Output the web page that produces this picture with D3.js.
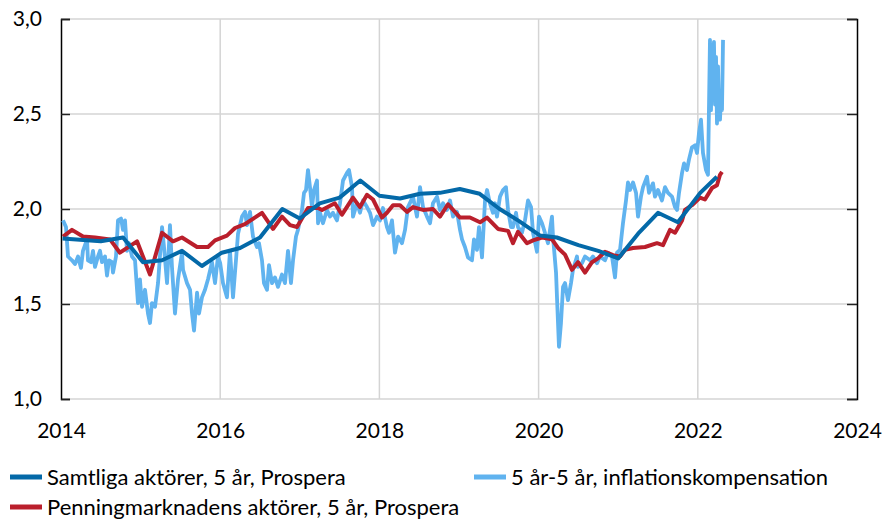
<!DOCTYPE html>
<html>
<head>
<meta charset="utf-8">
<script src="https://cdn.jsdelivr.net/npm/d3@7"></script>
<style>
  html, body { margin: 0; padding: 0; background: #fff; }
  svg { display: block; }
  text { font-family: Lato, "Open Sans", sans-serif; fill: #000; }
</style>
</head>
<body>
<svg id="chart" width="882" height="522"></svg>
<script>
// ---------- DATA ----------
const yTicks = [1.0, 1.5, 2.0, 2.5, 3.0];
const xTicks = [2014, 2016, 2018, 2020, 2022, 2024];

const seriesNames = [
  "Samtliga aktörer, 5 år, Prospera",
  "5 år-5 år, inflationskompensation",
  "Penningmarknadens aktörer, 5 år, Prospera"
];

// Samtliga aktörer, 5 år, Prospera
const allYears = [2014.02, 2014.5, 2014.78, 2015.03, 2015.27, 2015.52, 2015.77, 2016.02, 2016.25, 2016.5, 2016.78, 2017.0, 2017.25, 2017.5, 2017.76, 2018.0, 2018.26, 2018.51, 2018.76, 2019.01, 2019.26, 2019.51, 2019.76, 2020.02, 2020.23, 2020.5, 2020.75, 2021.0, 2021.25, 2021.5, 2021.75, 2022.03, 2022.24];
const allValues = [1.845, 1.83, 1.85, 1.72, 1.73, 1.78, 1.70, 1.77, 1.795, 1.85, 2.0, 1.95, 2.03, 2.06, 2.15, 2.07, 2.055, 2.08, 2.085, 2.105, 2.08, 2.0, 1.935, 1.86, 1.85, 1.81, 1.78, 1.74, 1.87, 1.98, 1.93, 2.085, 2.17];

// Penningmarknadens aktörer, 5 år, Prospera
const mmYears = [2014.025, 2014.138, 2014.276, 2014.427, 2014.616, 2014.74, 2014.955, 2015.118, 2015.269, 2015.407, 2015.52, 2015.709, 2015.847, 2015.935, 2016.085, 2016.186, 2016.31, 2016.525, 2016.663, 2016.776, 2016.877, 2016.965, 2017.103, 2017.229, 2017.279, 2017.44, 2017.53, 2017.668, 2017.756, 2017.844, 2017.92, 2018.033, 2018.095, 2018.171, 2018.259, 2018.347, 2018.422, 2018.548, 2018.673, 2018.761, 2018.862, 2019.013, 2019.138, 2019.264, 2019.352, 2019.49, 2019.616, 2019.678, 2019.741, 2019.854, 2019.93, 2020.043, 2020.168, 2020.244, 2020.332, 2020.42, 2020.495, 2020.583, 2020.671, 2020.746, 2020.834, 2020.935, 2021.023, 2021.085, 2021.186, 2021.337, 2021.487, 2021.563, 2021.651, 2021.714, 2021.802, 2021.839, 2021.927, 2022.028, 2022.09, 2022.178, 2022.241, 2022.279, 2022.304];
const mmValues = [1.855, 1.89, 1.855, 1.85, 1.84, 1.77, 1.83, 1.655, 1.875, 1.83, 1.85, 1.80, 1.80, 1.835, 1.86, 1.90, 1.92, 1.98, 1.895, 1.96, 1.915, 1.905, 2.005, 2.005, 1.995, 2.03, 1.97, 2.06, 2.01, 2.075, 2.05, 1.955, 1.98, 2.02, 2.02, 1.985, 2.01, 1.995, 2.0, 1.96, 2.025, 1.955, 1.955, 1.93, 1.955, 1.895, 1.885, 1.82, 1.88, 1.82, 1.835, 1.85, 1.84, 1.795, 1.76, 1.68, 1.72, 1.665, 1.72, 1.74, 1.775, 1.757, 1.75, 1.785, 1.795, 1.80, 1.82, 1.81, 1.89, 1.875, 1.94, 1.995, 2.02, 2.06, 2.05, 2.11, 2.125, 2.18, 2.195];

// 5 år-5 år, inflationskompensation
const bkYears = [2014.025, 2014.063, 2014.088, 2014.138, 2014.176, 2014.214, 2014.251, 2014.276, 2014.327, 2014.339, 2014.377, 2014.402, 2014.427, 2014.465, 2014.49, 2014.515, 2014.553, 2014.578, 2014.603, 2014.641, 2014.653, 2014.691, 2014.716, 2014.754, 2014.779, 2014.804, 2014.829, 2014.854, 2014.892, 2014.93, 2014.967, 2014.992, 2015.018, 2015.055, 2015.093, 2015.118, 2015.143, 2015.181, 2015.219, 2015.269, 2015.294, 2015.332, 2015.369, 2015.394, 2015.432, 2015.47, 2015.52, 2015.533, 2015.583, 2015.621, 2015.646, 2015.671, 2015.709, 2015.734, 2015.771, 2015.809, 2015.847, 2015.897, 2015.935, 2015.972,
  2016.0, 2016.035, 2016.085, 2016.123, 2016.161, 2016.198, 2016.224, 2016.274, 2016.312, 2016.337, 2016.374, 2016.412, 2016.462, 2016.487, 2016.525, 2016.55, 2016.588, 2016.613, 2016.651, 2016.688, 2016.726, 2016.776, 2016.814, 2016.852, 2016.889, 2016.915, 2016.952, 2016.977, 2017.028, 2017.053, 2017.078, 2017.103, 2017.128, 2017.153, 2017.178, 2017.216, 2017.229, 2017.254, 2017.291, 2017.342, 2017.379, 2017.417, 2017.467, 2017.505, 2017.543, 2017.593, 2017.618, 2017.656, 2017.668, 2017.719, 2017.756, 2017.794, 2017.844, 2017.882, 2017.92, 2017.97,
  2018.008, 2018.045, 2018.095, 2018.121, 2018.158, 2018.196, 2018.234, 2018.284, 2018.322, 2018.359, 2018.422, 2018.472, 2018.51, 2018.548, 2018.598, 2018.636, 2018.673, 2018.724, 2018.761, 2018.799, 2018.849, 2018.887, 2018.925, 2018.975, 2019.013, 2019.038, 2019.075, 2019.113, 2019.163, 2019.188, 2019.226, 2019.251, 2019.289, 2019.327, 2019.352, 2019.389, 2019.427, 2019.452, 2019.477, 2019.515, 2019.553, 2019.59, 2019.616, 2019.653, 2019.678, 2019.716, 2019.741, 2019.791, 2019.829, 2019.867, 2019.905, 2019.93, 2019.98,
  2020.005, 2020.043, 2020.08, 2020.118, 2020.168, 2020.181, 2020.219, 2020.231, 2020.256, 2020.281, 2020.307, 2020.332, 2020.369, 2020.407, 2020.432, 2020.482, 2020.495, 2020.545, 2020.583, 2020.646, 2020.683, 2020.734, 2020.771, 2020.834, 2020.872, 2020.922, 2020.96, 2020.985, 2021.023, 2021.06, 2021.098, 2021.123, 2021.148, 2021.186, 2021.224, 2021.249, 2021.286, 2021.312, 2021.362, 2021.387, 2021.437, 2021.462, 2021.5, 2021.55, 2021.588, 2021.626, 2021.676, 2021.714, 2021.739, 2021.764, 2021.802, 2021.827, 2021.864, 2021.889, 2021.927, 2021.965, 2021.99,
  2022.015, 2022.04, 2022.065, 2022.103, 2022.128, 2022.153, 2022.166, 2022.178, 2022.191, 2022.203, 2022.216, 2022.229, 2022.241, 2022.254, 2022.266, 2022.279, 2022.292, 2022.304, 2022.317];
const bkValues = [1.94, 1.905, 1.75, 1.73, 1.71, 1.75, 1.69, 1.78, 1.84, 1.73, 1.72, 1.78, 1.695, 1.75, 1.78, 1.72, 1.75, 1.65, 1.73, 1.72, 1.665, 1.75, 1.94, 1.95, 1.89, 1.94, 1.78, 1.82, 1.75, 1.73, 1.505, 1.63, 1.485, 1.575, 1.45, 1.40, 1.505, 1.485, 1.61, 1.905, 1.80, 1.61, 1.915, 1.695, 1.45, 1.63, 1.77, 1.68, 1.61, 1.575, 1.45, 1.36, 1.56, 1.45, 1.535, 1.575, 1.63, 1.72, 1.61, 1.75,
  1.715, 1.61, 1.535, 1.78, 1.535, 1.73, 1.87, 1.96, 1.985, 1.915, 1.985, 1.855, 1.80, 1.82, 1.73, 1.61, 1.575, 1.705, 1.61, 1.64, 1.59, 1.655, 1.61, 1.78, 1.61, 1.73, 1.855, 1.89, 1.995, 2.085, 2.10, 2.205, 2.115, 2.01, 2.10, 2.15, 1.925, 1.98, 1.925, 1.995, 1.96, 1.98, 1.94, 2.03, 2.15, 2.19, 2.205, 2.115, 1.96, 2.03, 1.98, 2.045, 2.01, 1.98, 1.915, 1.96,
  1.94, 2.005, 1.905, 1.875, 1.94, 1.77, 1.855, 1.82, 1.89, 2.01, 2.065, 1.96, 2.115, 2.01, 1.96, 1.925, 2.03, 2.065, 1.995, 2.03, 1.995, 2.045, 1.96, 1.985, 1.89, 1.84, 1.80, 1.745, 1.73, 1.84, 1.785, 1.905, 1.745, 2.045, 2.10, 2.03, 1.98, 2.03, 1.96, 2.065, 2.10, 2.115, 1.995, 1.905, 1.905, 1.98, 1.905, 1.875, 1.94, 2.045, 2.01, 1.875, 1.775,
  1.96, 1.925, 1.875, 1.82, 1.96, 1.855, 1.665, 1.535, 1.275, 1.40, 1.59, 1.61, 1.52, 1.61, 1.68, 1.75, 1.695, 1.715, 1.75, 1.73, 1.75, 1.715, 1.75, 1.73, 1.77, 1.75, 1.64, 1.77, 1.785, 1.925, 2.045, 2.14, 2.10, 2.14, 2.085, 1.96, 2.065, 2.115, 2.17, 2.085, 2.135, 2.065, 2.10, 2.045, 2.115, 2.085, 2.065, 2.01, 1.995, 2.085, 2.19, 2.24, 2.205, 2.26, 2.325, 2.335, 2.295,
  2.40, 2.47, 2.295, 2.205, 2.18, 2.89, 2.52, 2.86, 2.60, 2.88, 2.55, 2.80, 2.45, 2.75, 2.50, 2.47, 2.60, 2.52, 2.89];

// ---------- CHART ----------
const colors = { all: "#0469a8", bk: "#60b3ef", mm: "#ba1f2c" };
const svg = d3.select("#chart");
const x = d3.scaleLinear().domain([2014, 2024]).range([61, 857]);
const y = d3.scaleLinear().domain([1, 3]).range([399, 19]);

// grid
svg.append("g").selectAll("line").data(yTicks).join("line")
  .attr("x1", x(2014)).attr("x2", x(2024))
  .attr("y1", d => y(d)).attr("y2", d => y(d))
  .attr("stroke", "#d4d4d4").attr("stroke-width", 1.5);
svg.append("g").selectAll("line").data(xTicks.filter(d => d > 2014 && d < 2024)).join("line")
  .attr("x1", d => x(d)).attr("x2", d => x(d))
  .attr("y1", y(1)).attr("y2", y(3))
  .attr("stroke", "#d4d4d4").attr("stroke-width", 1.5);

// axes
const fmt = d => d3.format(".1f")(d).replace(".", ",");
const yAxis = svg.append("g").attr("transform", `translate(${x(2014)},0)`)
  .call(d3.axisLeft(y).tickValues(yTicks).tickFormat(fmt).tickSize(-9).tickPadding(19));
yAxis.select(".domain").attr("stroke", "#000").attr("stroke-width", 1.5);
yAxis.selectAll(".tick line").attr("stroke", "#222").attr("stroke-width", 1.5);
yAxis.selectAll("text").style("font-size", "21px");

const yAxisR = svg.append("g").attr("transform", `translate(${x(2024)},0)`)
  .call(d3.axisRight(y).tickValues(yTicks).tickFormat("").tickSize(-10));
yAxisR.select(".domain").attr("stroke", "#000").attr("stroke-width", 1.5);
yAxisR.selectAll(".tick line").attr("stroke", "#222").attr("stroke-width", 1.5);

const xAxis = svg.append("g").attr("transform", `translate(0,${y(1)})`)
  .call(d3.axisBottom(x).tickValues(xTicks).tickFormat(d3.format("d")).tickSize(0).tickPadding(24));
xAxis.select(".domain").remove();
xAxis.selectAll("text").style("font-size", "21px");

// lines
const line = d3.line().x(d => x(d[0])).y(d => y(d[1]));
const pairs = (a, b) => a.map((v, i) => [v, b[i]]);
svg.append("path").datum(pairs(bkYears, bkValues)).attr("d", line)
  .attr("fill", "none").attr("stroke", colors.bk).attr("stroke-width", 3.8).attr("stroke-linejoin", "round");
svg.append("path").datum(pairs(mmYears, mmValues)).attr("d", line)
  .attr("fill", "none").attr("stroke", colors.mm).attr("stroke-width", 4).attr("stroke-linejoin", "round");
svg.append("path").datum(pairs(allYears, allValues)).attr("d", line)
  .attr("fill", "none").attr("stroke", colors.all).attr("stroke-width", 4).attr("stroke-linejoin", "round");

// legend
const legendItems = [
  { name: seriesNames[0], color: colors.all, lx: 10, ly: 477 },
  { name: seriesNames[1], color: colors.bk, lx: 474, ly: 477 },
  { name: seriesNames[2], color: colors.mm, lx: 10, ly: 507 }
];
const lg = svg.append("g").selectAll("g").data(legendItems).join("g")
  .attr("transform", d => `translate(${d.lx},${d.ly})`);
lg.append("line").attr("x1", 0).attr("x2", 32).attr("y1", 0).attr("y2", 0)
  .attr("stroke", d => d.color).attr("stroke-width", 5);
lg.append("text").attr("x", 37).attr("y", 0).attr("dy", "0.35em")
  .style("font-size", "22px").text(d => d.name);
</script>
</body>
</html>
